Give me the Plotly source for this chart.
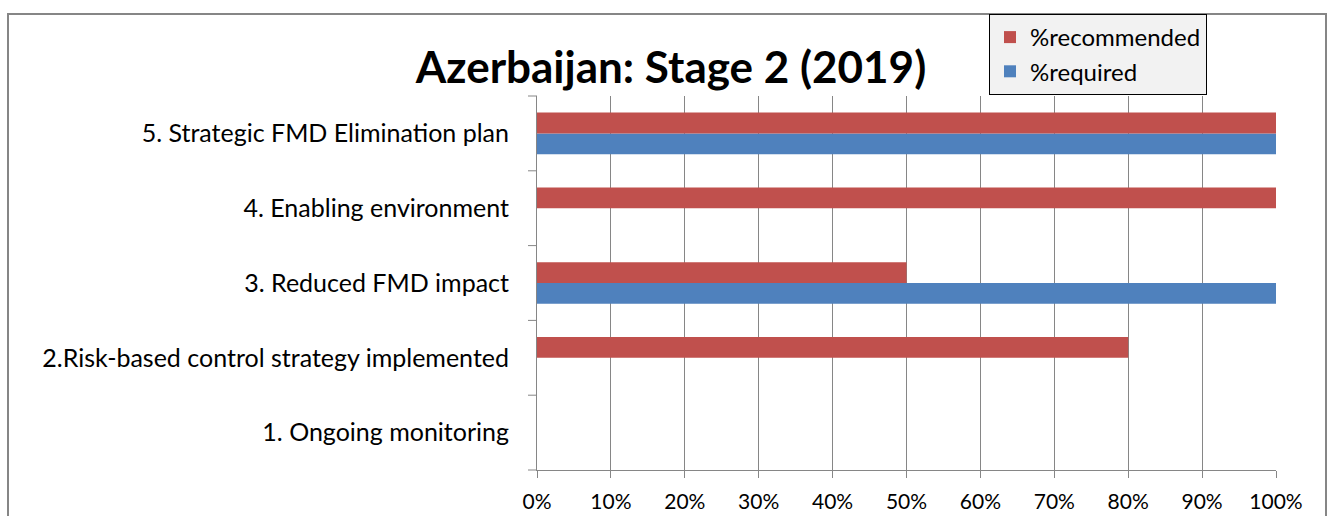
import plotly.graph_objects as go

categories = ["1. Ongoing monitoring", "2.Risk-based control strategy implemented",
              "3. Reduced FMD impact", "4. Enabling environment",
              "5. Strategic FMD Elimination plan"]
required = [0, 0, 1.0, 0, 1.0]
recommended = [0, 0.8, 0.5, 1.0, 1.0]
tick_vals = [0, 0.1, 0.2, 0.3, 0.4, 0.5, 0.6, 0.7, 0.8, 0.9, 1.0]
tick_text = ["0%", "10%", "20%", "30%", "40%", "50%", "60%", "70%", "80%", "90%", "100%"]

FONT = "Lato"
W, H = 1335, 516
# page positions of the plot area
AL, AR, AT, AB = 537, 1276, 96, 470
L, R, T, B = AL, W - AR, AT, H - AB
pw, ph = AR - AL, AB - AT

def px(x):
    return (x - AL) / pw

def py(y):
    return (AB - y) / ph

fig = go.Figure()
fig.add_trace(go.Bar(y=categories, x=required, orientation="h", name="%required",
                     marker=dict(color="#4F81BD", line=dict(width=0))))
fig.add_trace(go.Bar(y=categories, x=recommended, orientation="h", name="%recommended",
                     marker=dict(color="#C0504D", line=dict(width=0))))

fig.update_layout(
    width=W, height=H,
    margin=dict(l=L, r=R, t=T, b=B, autoexpand=False),
    paper_bgcolor="white", plot_bgcolor="white",
    barmode="group", bargap=0.444, bargroupgap=0,
    font=dict(family=FONT, size=25, color="black"),
    title=dict(text="<b>Azerbaijan: Stage 2 (2019)</b>", x=671 / W, xanchor="center",
               y=1 - 68 / H, yanchor="middle",
               font=dict(family=FONT, size=44, color="black")),
    xaxis=dict(range=[0, 1], tickvals=tick_vals, ticktext=tick_text, showgrid=True,
               gridcolor="#868686", gridwidth=1, showline=True, linecolor="#868686",
               ticks="outside", ticklen=7, tickcolor="#868686", zeroline=False,
               tickfont=dict(size=21), ticklabelstandoff=6, fixedrange=True),
    yaxis=dict(categoryorder="array", categoryarray=categories, showline=True,
               linecolor="#868686", ticks="", showgrid=False, tickfont=dict(size=25),
               ticklabelstandoff=22, fixedrange=True),
    legend=dict(x=px(989), y=py(14), xanchor="left", yanchor="top",
                bgcolor="#F2F2F2", bordercolor="black", borderwidth=1,
                traceorder="reversed", font=dict(size=24), itemwidth=30,
                tracegroupgap=0),
    showlegend=True,
)
# category boundary tick marks on y axis
for i in range(len(categories) + 1):
    fig.add_shape(type="line", xref="paper", yref="paper", x0=-9 / pw, x1=0,
                  y0=i / len(categories), y1=i / len(categories),
                  line=dict(color="#868686", width=1))
# outer chart border
fig.add_shape(type="rect", xref="paper", yref="paper", x0=px(8), x1=px(1326),
              y0=-0.3, y1=py(14), line=dict(color="#868686", width=2), layer="below")
fig.write_html("out.html", config={"displayModeBar": False},
               post_script="document.body.style.margin='0';document.body.style.overflow='hidden';")
